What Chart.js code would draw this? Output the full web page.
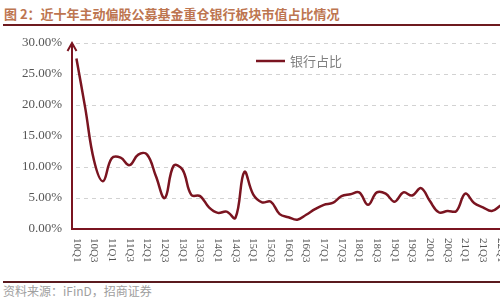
<!DOCTYPE html>
<html>
<head>
<meta charset="utf-8">
<script src="https://cdn.jsdelivr.net/npm/chart.js@4/dist/chart.umd.min.js"></script>
<style>
  html, body { margin: 0; padding: 0; width: 500px; height: 300px; overflow: hidden; background: #fff; }
  #title { position: absolute; left: 4px; top: 5px; font: bold 13px "Noto Sans CJK SC", sans-serif; color: #bd7550; white-space: nowrap; line-height: 17px; }
  #rule1 { position: absolute; left: 3px; top: 24px; width: 500px; height: 2px; background: #6e1a1f; }
  #rule2 { position: absolute; left: 3px; top: 281px; width: 500px; height: 2px; background: #5a1a1e; }
  #source { position: absolute; left: 3px; top: 284px; font: 12px "Noto Sans CJK SC", sans-serif; color: #a0a0a0; white-space: nowrap; line-height: 14px; }
  #wrap { position: absolute; left: 0; top: 0; width: 515px; height: 280px; }
</style>
</head>
<body>
<div id="title">图 2：近十年主动偏股公募基金重仓银行板块市值占比情况</div>
<div id="rule1"></div>
<div id="wrap"><canvas id="c"></canvas></div>
<div id="rule2"></div>
<div id="source">资料来源：iFinD，招商证券</div>
<script>
const quarters = [
  "10Q1","10Q2","10Q3","10Q4","11Q1","11Q2","11Q3","11Q4",
  "12Q1","12Q2","12Q3","12Q4","13Q1","13Q2","13Q3","13Q4",
  "14Q1","14Q2","14Q3","14Q4","15Q1","15Q2","15Q3","15Q4",
  "16Q1","16Q2","16Q3","16Q4","17Q1","17Q2","17Q3","17Q4",
  "18Q1","18Q2","18Q3","18Q4","19Q1","19Q2","19Q3","19Q4",
  "20Q1","20Q2","20Q3","20Q4","21Q1","21Q2","21Q3","21Q4","22Q1"
];
const seriesName = "银行占比";
const bankShare = [
  27.5, 19.5, 11.0, 7.7, 11.4, 11.5, 10.3, 12.0,
  12.0, 8.5, 5.0, 10.2, 9.6, 5.5, 5.3, 3.5,
  2.6, 2.8, 1.8, 9.2, 5.6, 4.3, 4.4, 2.4,
  1.9, 1.5, 2.3, 3.2, 3.9, 4.2, 5.3, 5.6,
  5.9, 3.9, 5.9, 5.7, 4.4, 5.9, 5.4, 6.6,
  4.5, 2.7, 2.9, 2.9, 5.7, 4.2, 3.5, 2.9, 3.8
];
const yTicks = [0, 5, 10, 15, 20, 25, 30];

const axisColor = "#7a1420";

const decor = {
  id: "decor",
  beforeDatasetsDraw(chart) {
    const ctx = chart.ctx, y = chart.scales.y, ca = chart.chartArea;
    ctx.save();
    ctx.strokeStyle = "#d2d2d2";
    ctx.lineWidth = 1;
    ctx.setLineDash([4, 4]);
    yTicks.forEach(v => {
      if (v === 0) return;
      const py = Math.round(y.getPixelForValue(v)) + 0.5;
      ctx.beginPath();
      ctx.moveTo(ca.left + 4, py);
      ctx.lineTo(ca.right + 10, py);
      ctx.stroke();
    });
    ctx.restore();
  },
  afterDraw(chart) {
    const ctx = chart.ctx;
    const x = chart.scales.x, y = chart.scales.y;
    const ca = chart.chartArea;
    const ax = ca.left, tip = y.getPixelForValue(30);
    ctx.save();
    ctx.strokeStyle = axisColor;
    ctx.lineWidth = 2;
    ctx.beginPath();
    ctx.moveTo(ax, ca.bottom);
    ctx.lineTo(ax, tip);
    ctx.stroke();
    ctx.beginPath();
    ctx.moveTo(ax - 4.5, tip + 8);
    ctx.lineTo(ax, tip);
    ctx.lineTo(ax + 4.5, tip + 8);
    ctx.stroke();
    // rotated x labels (clockwise, reading top to bottom)
    ctx.fillStyle = "#555";
    ctx.font = '11px "Liberation Serif", serif';
    ctx.textAlign = "left";
    ctx.textBaseline = "middle";
    quarters.forEach((q, i) => {
      if (i % 2 !== 0) return;
      const px = x.getPixelForValue(i);
      ctx.save();
      ctx.translate(px, ca.bottom + 9);
      ctx.rotate(Math.PI / 2);
      ctx.fillText(q, 0, 0);
      ctx.restore();
    });
    // legend inside plot
    const ds = chart.data.datasets[0];
    const ly = 61;
    ctx.strokeStyle = ds.borderColor;
    ctx.lineWidth = 2.5;
    ctx.beginPath();
    ctx.moveTo(256, ly);
    ctx.lineTo(285, ly);
    ctx.stroke();
    ctx.fillStyle = "#808080";
    ctx.font = '13px "Noto Sans CJK SC", sans-serif';
    ctx.textBaseline = "middle";
    ctx.fillText(ds.label, 290, ly);
    ctx.restore();
  }
};

new Chart(document.getElementById("c"), {
  type: "line",
  data: {
    labels: quarters,
    datasets: [{
      label: seriesName,
      data: bankShare,
      borderColor: axisColor,
      borderWidth: 2.5,
      pointRadius: 0,
      tension: 0.4,
      fill: false
    }]
  },
  options: {
    responsive: true,
    maintainAspectRatio: false,
    animation: false,
    layout: { padding: { top: 43, right: 10, bottom: 0, left: 0 } },
    plugins: { legend: { display: false }, title: { display: false }, tooltip: { enabled: false } },
    scales: {
      x: {
        type: "category",
        offset: true,
        grid: { display: false, drawTicks: false },
        border: { display: true, color: axisColor, width: 2 },
        ticks: { display: false },
        afterFit(scale) { scale.height = 51; }
      },
      y: {
        min: 0, max: 30,
        afterBuildTicks(scale) { scale.ticks = yTicks.map(v => ({ value: v })); },
        grid: { display: false, drawTicks: false },
        border: { display: false },
        ticks: {
          padding: 10,
          color: "#555",
          font: { family: "Liberation Serif", size: 13 },
          callback: (v) => Number(v).toFixed(2) + "%"
        },
        afterFit(scale) { scale.width = 72; }
      }
    }
  },
  plugins: [decor]
});
</script>
</body>
</html>
